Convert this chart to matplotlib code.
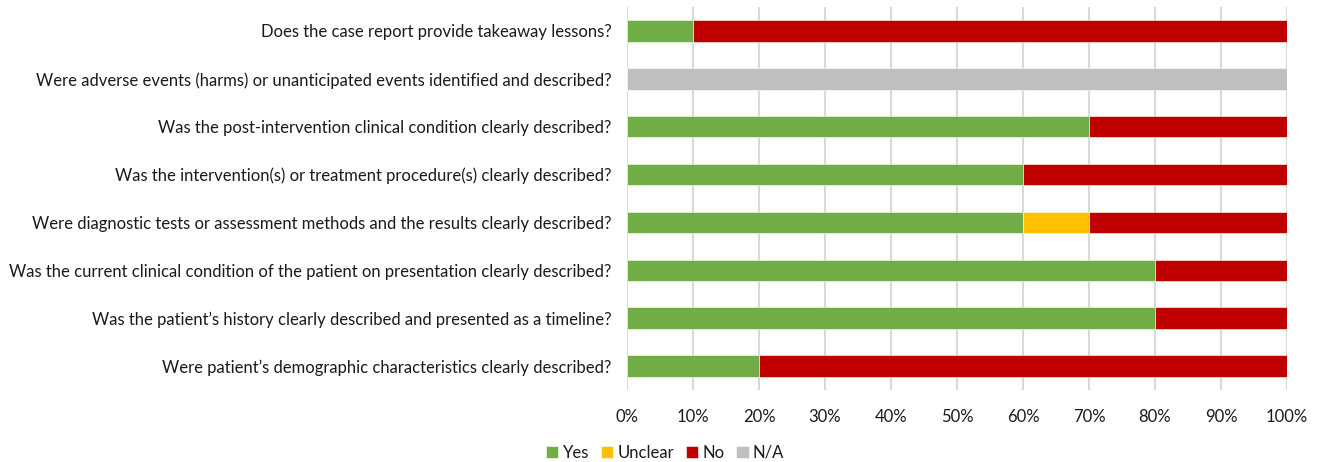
import matplotlib.pyplot as plt
import numpy as np

plt.rcParams['font.family'] = ['Lato', 'DejaVu Sans']

# questions, bottom to top
questions = [
    'Were patient’s demographic characteristics clearly described?',
    'Was the patient’s history clearly described and presented as a timeline?',
    'Was the current clinical condition of the patient on presentation clearly described?',
    'Were diagnostic tests or assessment methods and the results clearly described?',
    'Was the intervention(s) or treatment procedure(s) clearly described?',
    'Was the post-intervention clinical condition clearly described?',
    'Were adverse events (harms) or unanticipated events identified and described?',
    'Does the case report provide takeaway lessons?',
]
yes = [20, 80, 80, 60, 60, 70, 0, 10]
unclear = [0, 0, 0, 10, 0, 0, 0, 0]
no = [80, 20, 20, 30, 40, 30, 0, 90]
na = [0, 0, 0, 0, 0, 0, 100, 0]

series = [('Yes', yes, '#70AD47'), ('Unclear', unclear, '#FFC000'),
          ('No', no, '#C00000'), ('N/A', na, '#BFBFBF')]

fig = plt.figure(figsize=(13.18, 4.62), dpi=100)
ax = fig.add_axes([627/1318, 1-390/462, 660/1318, 383/462])

y = np.arange(len(questions))
left = np.zeros(len(questions))
for name, vals, col in series:
    vals = np.array(vals, dtype=float)
    ax.barh(y, vals, left=left, height=0.45, color=col, label=name,
            edgecolor='white', linewidth=0.4, zorder=3)
    left += vals

ax.set_xlim(0, 100)
ax.set_ylim(-0.5, len(questions) - 0.5)
ax.set_xticks(np.arange(0, 101, 10))
ax.set_xticklabels([f'{v}%' for v in range(0, 101, 10)])
ax.set_yticks(y)
ax.set_yticklabels(questions)
ax.grid(axis='x', color='#D9D9D9', linewidth=1.5, zorder=0)
for s in ax.spines.values():
    s.set_visible(False)
ax.tick_params(length=0, labelsize=12, colors='#1a1a1a')
ax.tick_params(axis='x', pad=14)
ax.tick_params(axis='y', pad=11)

fig.legend(loc='center', bbox_to_anchor=(665/1318, 1-453/462), ncol=4, frameon=False,
           fontsize=12, handlelength=0.75, handleheight=0.75, handletextpad=0.25,
           columnspacing=0.7, labelcolor='#1a1a1a', borderpad=0)

fig.savefig('out.png', dpi=100)
